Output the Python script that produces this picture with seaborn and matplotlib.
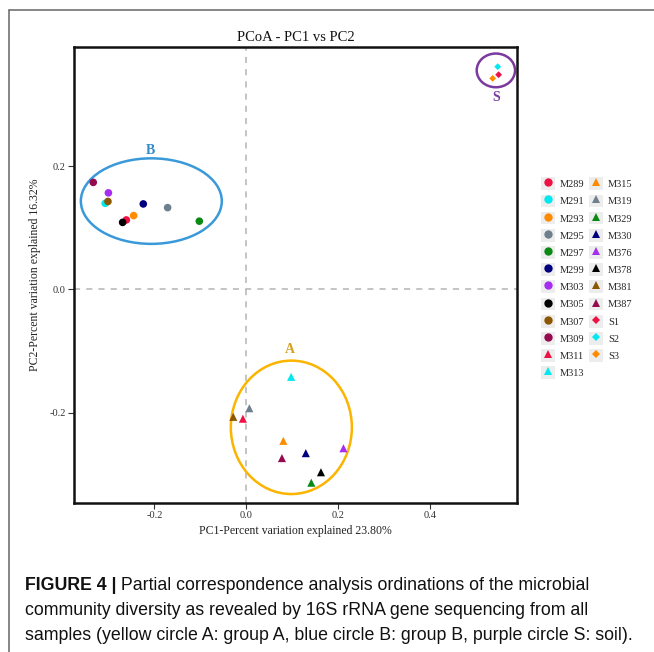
import pandas as pd
import seaborn as sns
import matplotlib.pyplot as plt
import matplotlib.patches as mpatches
from matplotlib.lines import Line2D
from matplotlib.patches import Ellipse

# sample scores
samples_B = ['M289', 'M291', 'M293', 'M295', 'M297', 'M299', 'M303', 'M305', 'M307', 'M309']
pc1_B = [-0.261, -0.307, -0.245, -0.171, -0.102, -0.224, -0.300, -0.269, -0.301, -0.333]
pc2_B = [0.113, 0.140, 0.120, 0.133, 0.111, 0.139, 0.157, 0.109, 0.143, 0.174]

samples_A = ['M311', 'M313', 'M315', 'M319', 'M329', 'M330', 'M376', 'M378', 'M381', 'M387']
pc1_A = [-0.007, 0.098, 0.081, 0.007, 0.142, 0.130, 0.212, 0.163, -0.028, 0.078]
pc2_A = [-0.210, -0.142, -0.246, -0.193, -0.314, -0.266, -0.258, -0.297, -0.207, -0.274]

samples_S = ['S1', 'S2', 'S3']
pc1_S = [0.550, 0.548, 0.537]
pc2_S = [0.349, 0.362, 0.343]

colors = {
    'M289': '#ee1144', 'M291': '#00e8f0', 'M293': '#ff8c00', 'M295': '#6e7f8e',
    'M297': '#0a8a14', 'M299': '#00007e', 'M303': '#a62ef0', 'M305': '#000000',
    'M307': '#8b5700', 'M309': '#950a4e', 'M311': '#ee1144', 'M313': '#00e8f0',
    'M315': '#ff8c00', 'M319': '#6e7f8e', 'M329': '#0a8a14', 'M330': '#00007e',
    'M376': '#a62ef0', 'M378': '#000000', 'M381': '#8b5700', 'M387': '#950a4e',
    'S1': '#ee1144', 'S2': '#00e8f0', 'S3': '#ff8c00',
}

df = pd.DataFrame({
    'sample': samples_B + samples_A + samples_S,
    'PC1': pc1_B + pc1_A + pc1_S,
    'PC2': pc2_B + pc2_A + pc2_S,
    'group': ['B'] * len(samples_B) + ['A'] * len(samples_A) + ['S'] * len(samples_S),
})

sns.set_style('white')
plt.rcParams['font.family'] = ['Liberation Serif', 'DejaVu Serif']

fig = plt.figure(figsize=(6.54, 6.52), dpi=100)
ax = fig.add_axes([0.1131, 0.2285, 0.6774, 0.6994])

ax.axvline(0, color='#b4b4b4', lw=1.1, ls=(0, (4, 4)), zorder=0)
ax.axhline(0, color='#b4b4b4', lw=1.1, ls=(0, (4, 4)), zorder=0)

markers = {'B': 'o', 'A': '^', 'S': 'D'}
for g, s in [('B', 30), ('A', 34), ('S', 12)]:
    sub = df[df['group'] == g]
    sns.scatterplot(data=sub, x='PC1', y='PC2', hue='sample', palette=colors,
                    marker=markers[g], s=s, linewidth=0, legend=False, ax=ax, zorder=3)

# group ellipses
ax.add_patch(Ellipse((-0.2065, 0.1436), 0.307, 0.139, fill=False, ec='#3a9ad9', lw=1.8))
ax.add_patch(Ellipse((0.0985, -0.224), 0.2636, 0.2168, fill=False, ec='#fbb400', lw=1.8))
ax.add_patch(Ellipse((0.544, 0.356), 0.0835, 0.0548, fill=False, ec='#7a3a9e', lw=1.8))
ax.text(-0.208, 0.226, 'B', color='#2f8bc9', fontsize=10, fontweight='bold', ha='center', va='center')
ax.text(0.096, -0.097, 'A', color='#d8a020', fontsize=10, fontweight='bold', ha='center', va='center')
ax.text(0.545, 0.3125, 'S', color='#7a3a9e', fontsize=10, fontweight='bold', ha='center', va='center')

ax.set_xlim(-0.375, 0.590)
ax.set_ylim(-0.347, 0.394)
ax.set_xticks([-0.2, 0.0, 0.2, 0.4])
ax.set_yticks([-0.2, 0.0, 0.2])
ax.set_xticklabels(['-0.2', '0.0', '0.2', '0.4'])
ax.set_yticklabels(['-0.2', '0.0', '0.2'])
ax.tick_params(axis='both', direction='out', length=4, width=0.8, color='#333333',
               labelsize=7.5, labelcolor='#333333', pad=2,
               bottom=True, left=True, top=False, right=False)
for sp in ax.spines.values():
    sp.set_linewidth(1.8)
    sp.set_color('#111111')

ax.set_xlabel('PC1-Percent variation explained 23.80%', fontsize=8.5, color='#222222', labelpad=3)
ax.set_ylabel('PC2-Percent variation explained 16.32%', fontsize=8.5, color='#222222', labelpad=6)
ax.set_title('PCoA - PC1 vs PC2', fontsize=10.5, color='#111111', pad=4)

# legend with grey key boxes
handles = []
labels = []
for name in samples_B + samples_A + samples_S:
    grp = df.loc[df['sample'] == name, 'group'].iloc[0]
    ms = {'B': 6.0, 'A': 6.2, 'S': 3.6}[grp]
    box = mpatches.Rectangle((0, 0), 1, 1, facecolor='#ededed', edgecolor='none')
    mk = Line2D([], [], ls='none', marker=markers[grp], ms=ms, mew=0, color=colors[name])
    handles.append((box, mk))
    labels.append(name)
fig.legend(handles, labels, loc='upper left', bbox_to_anchor=(0.8268, 0.728), ncol=2,
           frameon=False, fontsize=7.5, handlelength=1.35, handleheight=1.5,
           labelspacing=0.43, handletextpad=0.5, columnspacing=0.4, borderpad=0,
           borderaxespad=0)

# outer frame of the figure panel
fig.add_artist(Line2D([9 / 654, 1.0], [1 - 10 / 652, 1 - 10 / 652], color='#666666', lw=1.1))
fig.add_artist(Line2D([9 / 654, 9 / 654], [0.0, 1 - 10 / 652], color='#666666', lw=1.1))

# caption
cap = ['Liberation Sans', 'DejaVu Sans']
t1 = fig.text(25 / 654, 1 - 594 / 652, 'FIGURE 4 |', family=cap, fontsize=12.8,
              fontweight='bold', color='#111111', va='bottom')
ax.annotate(' Partial correspondence analysis ordinations of the microbial',
            xy=(1, 0), xycoords=t1, va='bottom', ha='left', family=cap,
            fontsize=12.8, color='#111111', annotation_clip=False)
fig.text(25 / 654, 1 - 619 / 652,
         'community diversity as revealed by 16S rRNA gene sequencing from all',
         family=cap, fontsize=12.8, color='#111111', va='bottom')
fig.text(25 / 654, 1 - 644 / 652,
         'samples (yellow circle A: group A, blue circle B: group B, purple circle S: soil).',
         family=cap, fontsize=12.8, color='#111111', va='bottom')

plt.savefig('out.png', dpi=100)
